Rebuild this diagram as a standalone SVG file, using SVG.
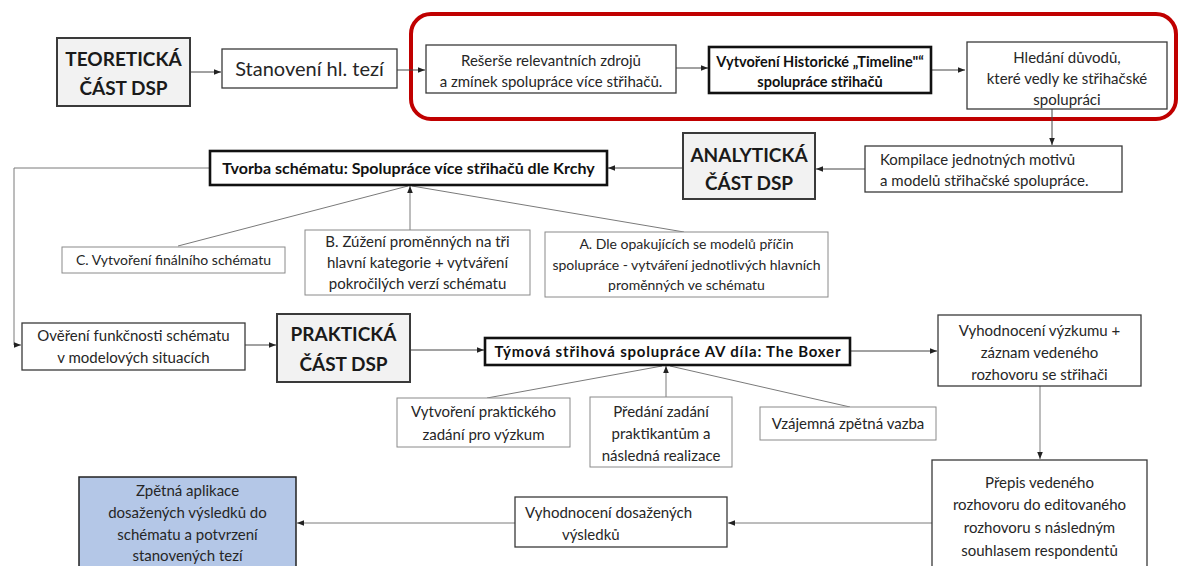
<svg xmlns="http://www.w3.org/2000/svg" width="1180" height="566" viewBox="0 0 1180 566">
<style>
text{font-family:Lato,"Open Sans","Liberation Sans",sans-serif;fill:#262626;text-anchor:middle}
.hdr rect{fill:#f2f2f2;stroke:#3a3a3a;stroke-width:2}
.hdr text{font-weight:bold;font-size:19px;fill:#1a1a1a}
.box rect{fill:#fff;stroke:#3a3a3a;stroke-width:1.3}
.thick rect{fill:#fff;stroke:#111;stroke-width:2.6}
.thick text{font-weight:bold;font-size:14.5px;fill:#111}
.sub rect{fill:#fff;stroke:#8a8a8a;stroke-width:1}
.t15{font-size:15px}
.t14{font-size:14px}
.conn path{fill:none;stroke:#444;stroke-width:1}
.conn .g{stroke:#7a7a7a}
</style>
<defs>
<marker id="arr" viewBox="0 0 10 10" refX="10" refY="5" markerWidth="7" markerHeight="7" orient="auto" markerUnits="userSpaceOnUse">
<path d="M0,1 L10,5 L0,9 z" fill="#222"/>
</marker>
</defs>
<rect id="highlight" x="411" y="14" width="765" height="105" rx="20" ry="20" fill="none" stroke="#c00000" stroke-width="4"/>
<g class="conn" id="connectors">
<path d="M190,72 H221" marker-end="url(#arr)"/>
<path d="M397,70 H425" marker-end="url(#arr)"/>
<path d="M676,68 H708" marker-end="url(#arr)"/>
<path d="M931,70 H965" marker-end="url(#arr)"/>
<path d="M1052,109 V145" marker-end="url(#arr)"/>
<path d="M865,169 H816" marker-end="url(#arr)"/>
<path d="M683,168 H608" marker-end="url(#arr)"/>
<path class="g" d="M210,168 H14 V345 H21" marker-end="url(#arr)"/>
<path class="g" d="M178,246 L408,186"/>
<path class="g" d="M410,230 V186" marker-end="url(#arr)"/>
<path class="g" d="M684,232 L412,186"/>
<path d="M245,345 H276" marker-end="url(#arr)"/>
<path d="M410,350 H484" marker-end="url(#arr)"/>
<path d="M850,351 H937" marker-end="url(#arr)"/>
<path class="g" d="M487,398 L662,366"/>
<path class="g" d="M666,397 V366" marker-end="url(#arr)"/>
<path class="g" d="M850,407 L670,366"/>
<path class="g" d="M1040,386 V459" marker-end="url(#arr)"/>
<path class="g" d="M932,523 H728" marker-end="url(#arr)"/>
<path class="g" d="M515,523 H297" marker-end="url(#arr)"/>
</g>
<g id="teoreticka" class="hdr">
<rect x="57" y="38" width="133" height="68"/>
<text x="123.5" y="66">TEORETICKÁ</text>
<text x="123.5" y="95">ČÁST DSP</text>
</g>
<g id="stanoveni" class="box">
<rect x="222" y="49" width="175" height="39"/>
<text x="309.5" y="76" style="font-size:20px">Stanovení hl. tezí</text>
</g>
<g id="reserse" class="box">
<rect x="426" y="45" width="250" height="48"/>
<text x="551" y="66" class="t15">Rešerše relevantních zdrojů</text>
<text x="551" y="87" class="t15">a zmínek spolupráce více střihačů.</text>
</g>
<g id="timeline" class="thick">
<rect x="709" y="47" width="222" height="46"/>
<text x="820" y="67">Vytvoření Historické „Timeline"“</text>
<text x="820" y="87">spolupráce střihačů</text>
</g>
<g id="hledani" class="box">
<rect x="967" y="42" width="200" height="67"/>
<text x="1067" y="63" class="t15">Hledání důvodů,</text>
<text x="1067" y="84" class="t15">které vedly ke střihačské</text>
<text x="1067" y="105" class="t15">spolupráci</text>
</g>
<g id="kompilace" class="box">
<rect x="865" y="146" width="257" height="46"/>
<text x="880" y="165" class="t15" style="text-anchor:start">Kompilace jednotných motivů</text>
<text x="880" y="186" class="t15" style="text-anchor:start">a modelů střihačské spolupráce.</text>
</g>
<g id="analyticka" class="hdr">
<rect x="683" y="133" width="132" height="66"/>
<text x="749" y="162">ANALYTICKÁ</text>
<text x="749" y="190">ČÁST DSP</text>
</g>
<g id="tvorba" class="thick">
<rect x="210" y="151" width="397" height="34"/>
<text x="408.5" y="174" style="font-size:16px">Tvorba schématu: Spolupráce více střihačů dle Krchy</text>
</g>
<g id="c-final" class="sub">
<rect x="62" y="247" width="223" height="26"/>
<text x="173.5" y="265" class="t14">C. Vytvoření finálního schématu</text>
</g>
<g id="b-zuzeni" class="sub">
<rect x="305" y="230" width="225" height="65"/>
<text x="417.5" y="247" style="font-size:15px">B. Zúžení proměnných na tři</text>
<text x="417.5" y="268" style="font-size:15px">hlavní kategorie + vytváření</text>
<text x="417.5" y="289" style="font-size:15px">pokročilých verzí schématu</text>
</g>
<g id="a-modely" class="sub">
<rect x="545" y="232" width="283" height="65"/>
<text x="686.5" y="249" class="t14">A. Dle opakujících se modelů příčin</text>
<text x="686.5" y="270" class="t14">spolupráce - vytváření jednotlivých hlavních</text>
<text x="686.5" y="290" class="t14">proměnných ve schématu</text>
</g>
<g id="overeni" class="box">
<rect x="22" y="323" width="223" height="47"/>
<text x="133.5" y="341" class="t15">Ověření funkčnosti schématu</text>
<text x="133.5" y="363" class="t15">v modelových situacích</text>
</g>
<g id="prakticka" class="hdr">
<rect x="277" y="314" width="133" height="68"/>
<text x="343.5" y="341">PRAKTICKÁ</text>
<text x="343.5" y="371">ČÁST DSP</text>
</g>
<g id="tymova" class="thick">
<rect x="485" y="338" width="365" height="27"/>
<text x="667.5" y="357" style="font-size:15px" textLength="346" lengthAdjust="spacing">Týmová střihová spolupráce AV díla: The Boxer</text>
</g>
<g id="vyhodnoceni-vyzkumu" class="box">
<rect x="938" y="315" width="203" height="71"/>
<text x="1039.5" y="336" class="t15">Vyhodnocení výzkumu +</text>
<text x="1039.5" y="358" class="t15">záznam vedeného</text>
<text x="1039.5" y="380" class="t15">rozhovoru se střihači</text>
</g>
<g id="zadani" class="sub">
<rect x="397" y="398" width="173" height="49"/>
<text x="483.5" y="417" class="t15">Vytvoření praktického</text>
<text x="483.5" y="440" class="t15">zadání pro výzkum</text>
</g>
<g id="predani" class="sub">
<rect x="590" y="397" width="142" height="70"/>
<text x="661" y="417" class="t15">Předání zadání</text>
<text x="661" y="439" class="t15">praktikantům a</text>
<text x="661" y="461" class="t15">následná realizace</text>
</g>
<g id="zpetna-vazba" class="sub">
<rect x="760" y="407" width="176" height="33"/>
<text x="848" y="429" class="t15">Vzájemná zpětná vazba</text>
</g>
<g id="prepis" class="box">
<rect x="932" y="460" width="215" height="112"/>
<text x="1039.5" y="488" class="t15">Přepis vedeného</text>
<text x="1039.5" y="510" class="t15">rozhovoru do editovaného</text>
<text x="1039.5" y="533" class="t15">rozhovoru s následným</text>
<text x="1039.5" y="556" class="t15">souhlasem respondentů</text>
</g>
<g id="vyhodnoceni-vysledku" class="box">
<rect x="515" y="497" width="212" height="50"/>
<text x="525" y="518" class="t15" style="text-anchor:start">Vyhodnocení dosažených</text>
<text x="562" y="540" class="t15" style="text-anchor:start">výsledků</text>
</g>
<g id="zpetna-aplikace">
<rect x="79" y="477" width="217" height="95" fill="#b4c7e7" stroke="#222" stroke-width="1.5"/>
<text x="187.5" y="496" class="t15">Zpětná aplikace</text>
<text x="187.5" y="518" class="t15">dosažených výsledků do</text>
<text x="187.5" y="540" class="t15">schématu a potvrzení</text>
<text x="187.5" y="561" class="t15">stanovených tezí</text>
</g>
</svg>
